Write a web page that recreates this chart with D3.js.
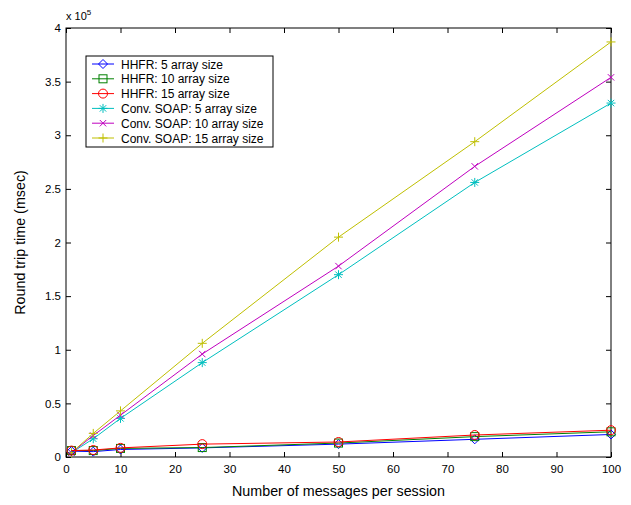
<!DOCTYPE html>
<html>
<head>
<meta charset="utf-8">
<script src="https://cdn.jsdelivr.net/npm/d3@7"></script>
<style>
  body { margin: 0; background: #fff; }
  text { font-family: "Liberation Sans", Arial, sans-serif; }
</style>
</head>
<body>
<div id="chart"></div>
<script>
// data (y values in units of 1e5 msec)
var messages = [1, 5, 10, 25, 50, 75, 100];
var seriesNames = ["HHFR: 5 array size", "HHFR: 10 array size", "HHFR: 15 array size",
                   "Conv. SOAP: 5 array size", "Conv. SOAP: 10 array size", "Conv. SOAP: 15 array size"];
var hhfr5   = [0.055, 0.05, 0.07, 0.085, 0.12, 0.165, 0.21];
var hhfr10  = [0.06, 0.06, 0.08, 0.088, 0.13, 0.19, 0.235];
var hhfr15  = [0.06, 0.065, 0.085, 0.12, 0.14, 0.205, 0.25];
var soap5   = [0.04, 0.17, 0.36, 0.88, 1.70, 2.56, 3.30];
var soap10  = [0.04, 0.20, 0.39, 0.96, 1.78, 2.71, 3.54];
var soap15  = [0.04, 0.22, 0.43, 1.06, 2.05, 2.94, 3.87];
var xTicks = [0, 10, 20, 30, 40, 50, 60, 70, 80, 90, 100];
var yTicks = [0, 0.5, 1, 1.5, 2, 2.5, 3, 3.5, 4];

var colors = ["#0000ff", "#008000", "#ff0000", "#00bfbf", "#bf00bf", "#bfbf00"];
var markers = ["diamond", "square", "circle", "asterisk", "cross", "plus"];
var allSeries = [hhfr5, hhfr10, hhfr15, soap5, soap10, soap15];

var W = 631, H = 505;
var margin = {top: 28, left: 66, right: 20, bottom: 48};
var width = W - margin.left - margin.right;
var height = H - margin.top - margin.bottom;

var svg = d3.select("#chart").append("svg")
    .attr("width", W).attr("height", H)
  .append("g")
    .attr("transform", "translate(" + margin.left + "," + margin.top + ")");

var x = d3.scaleLinear().domain([0, 100]).range([0, width]);
var y = d3.scaleLinear().domain([0, 4]).range([height, 0]);

// axes with inward ticks, mirrored on top/right
function styleAxis(g) {
  g.select(".domain").remove();
  g.selectAll("line").attr("stroke", "#000");
  g.selectAll("text").attr("font-size", 11.5).attr("fill", "#000");
}
svg.append("g").attr("transform", "translate(0," + height + ")")
  .call(d3.axisBottom(x).tickValues(xTicks).tickSizeInner(-5).tickSizeOuter(0).tickPadding(8))
  .call(styleAxis);
svg.append("g")
  .call(d3.axisTop(x).tickValues(xTicks).tickSizeInner(-5).tickSizeOuter(0).tickFormat(""))
  .call(styleAxis);
svg.append("g")
  .call(d3.axisLeft(y).tickValues(yTicks).tickSizeInner(-5).tickSizeOuter(0).tickPadding(5).tickFormat(d3.format("")))
  .call(styleAxis);
svg.append("g").attr("transform", "translate(" + width + ",0)")
  .call(d3.axisRight(y).tickValues(yTicks).tickSizeInner(-5).tickSizeOuter(0).tickFormat(""))
  .call(styleAxis);

svg.append("rect")
  .attr("width", width).attr("height", height)
  .attr("fill", "none").attr("stroke", "#000").attr("stroke-width", 1);

// exponent
var expo = svg.append("text").attr("x", 0).attr("y", -8).attr("font-size", 11);
expo.append("tspan").text("x 10");
expo.append("tspan").attr("dy", -5).attr("font-size", 8).text("5");

// axis labels
svg.append("text")
  .attr("x", width / 2).attr("y", height + 39)
  .attr("text-anchor", "middle").attr("font-size", 14.3)
  .text("Number of messages per session");
svg.append("text")
  .attr("transform", "translate(" + (-41) + "," + (height / 2) + ") rotate(-90)")
  .attr("text-anchor", "middle").attr("font-size", 14.3)
  .text("Round trip time (msec)");

function drawMarker(g, type, color, cx, cy) {
  var s = 4.5;
  if (type == "diamond") {
    g.append("path").attr("d", "M" + cx + "," + (cy - s) + "L" + (cx + s) + "," + cy + "L" + cx + "," + (cy + s) + "L" + (cx - s) + "," + cy + "Z")
      .attr("fill", "none").attr("stroke", color);
  } else if (type == "square") {
    g.append("rect").attr("x", cx - 4).attr("y", cy - 4).attr("width", 8).attr("height", 8)
      .attr("fill", "none").attr("stroke", color);
  } else if (type == "circle") {
    g.append("circle").attr("cx", cx).attr("cy", cy).attr("r", 4.5)
      .attr("fill", "none").attr("stroke", color);
  } else {
    var d = "";
    if (type == "plus" || type == "asterisk") {
      d += "M" + (cx - s) + "," + cy + "H" + (cx + s) + "M" + cx + "," + (cy - s) + "V" + (cy + s);
    }
    if (type == "cross" || type == "asterisk") {
      var t = 3.2;
      d += "M" + (cx - t) + "," + (cy - t) + "L" + (cx + t) + "," + (cy + t) + "M" + (cx - t) + "," + (cy + t) + "L" + (cx + t) + "," + (cy - t);
    }
    g.append("path").attr("d", d).attr("stroke", color).attr("fill", "none");
  }
}

var line = d3.line()
  .x(function(d) { return x(d[0]); })
  .y(function(d) { return y(d[1]); });

// draw soap first, then hhfr on top
[3, 4, 5, 0, 1, 2].forEach(function(i) {
  var pts = messages.map(function(m, j) { return [m, allSeries[i][j]]; });
  var g = svg.append("g");
  g.append("path").datum(pts)
    .attr("d", line)
    .attr("fill", "none")
    .attr("stroke", colors[i])
    .attr("stroke-width", 1);
  pts.forEach(function(p) { drawMarker(g, markers[i], colors[i], x(p[0]), y(p[1])); });
});

// legend
var lg = svg.append("g").attr("transform", "translate(" + (86 - margin.left) + "," + (56 - margin.top) + ")");
lg.append("rect").attr("width", 187).attr("height", 91)
  .attr("fill", "#fff").attr("stroke", "#000");
seriesNames.forEach(function(name, i) {
  var ry = 8 + i * 14.8;
  lg.append("line").attr("x1", 6).attr("x2", 28).attr("y1", ry).attr("y2", ry)
    .attr("stroke", colors[i]);
  drawMarker(lg, markers[i], colors[i], 17, ry);
  lg.append("text").attr("x", 35).attr("y", ry + 4.5)
    .attr("font-size", 12).text(name);
});
</script>
</body>
</html>
